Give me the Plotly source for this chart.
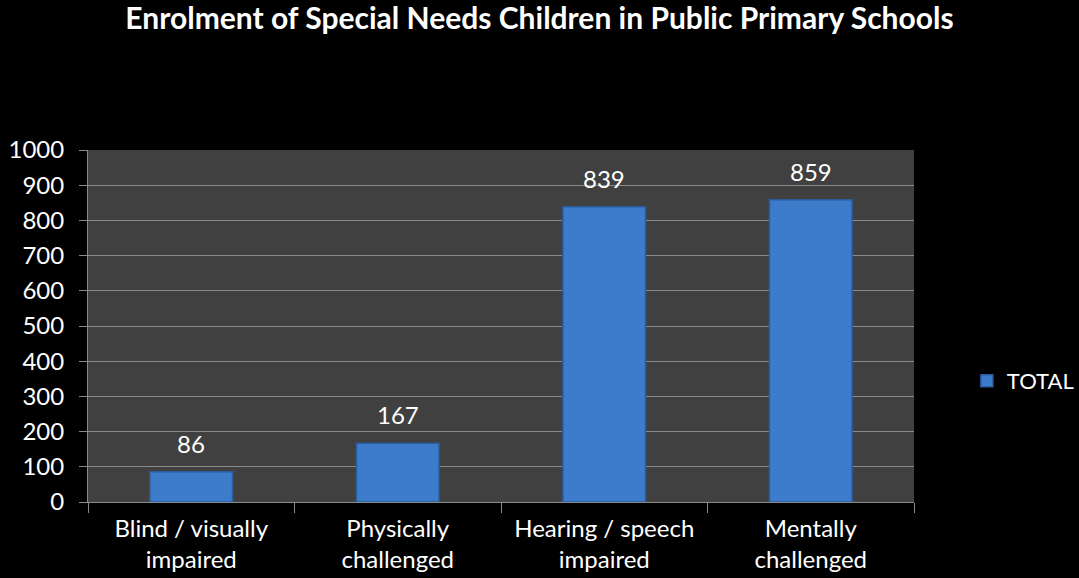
import plotly.graph_objects as go

categories = ["Blind / visually<br>impaired", "Physically<br>challenged",
              "Hearing / speech<br>impaired", "Mentally<br>challenged"]
totals = [86, 167, 839, 859]
series_name = "TOTAL"
y_ticks = list(range(0, 1001, 100))

FONT = "Lato, 'Open Sans', sans-serif"

fig = go.Figure()
fig.add_trace(go.Bar(
    x=categories,
    y=totals,
    name=series_name,
    marker=dict(color="#3d7cca", line=dict(color="#2a5d9e", width=1.5)),
    showlegend=True,
))

# value labels sitting above each bar
for cat, val in zip(categories, totals):
    fig.add_annotation(
        x=cat, y=val, text=str(val), showarrow=False,
        yanchor="bottom", yshift=12,
        font=dict(color="white", size=24, family=FONT),
    )

fig.update_layout(
    width=1079, height=578,
    paper_bgcolor="black",
    plot_bgcolor="#404040",
    margin=dict(l=88, r=165, t=150, b=76, autoexpand=False),
    bargap=0.6,
    font=dict(family=FONT, color="white", size=20),
    title=dict(
        text="<b>Enrolment of Special Needs Children in Public Primary Schools</b>",
        x=0.5, xanchor="center", y=0.968, yanchor="middle",
        font=dict(size=30, color="white", family=FONT),
    ),
    legend=dict(
        x=1.064, xanchor="left", y=0.344, yanchor="middle",
        font=dict(size=22, color="white", family=FONT),
        bgcolor="rgba(0,0,0,0)",
        itemwidth=30,
    ),
)

fig.update_yaxes(
    range=[0, 1000],
    tickvals=y_ticks,
    showgrid=True, gridcolor="#8a8a8a", gridwidth=1,
    showline=True, linecolor="#8a8a8a", linewidth=1,
    ticks="outside", ticklen=8, tickcolor="#8a8a8a",
    ticklabelstandoff=10,
    tickfont=dict(size=24, color="white", family=FONT),
    zeroline=False, automargin=False,
)
fig.update_xaxes(
    showline=True, linecolor="#8a8a8a", linewidth=1,
    ticks="outside", ticklen=10, tickcolor="#8a8a8a",
    tickson="boundaries",
    tickfont=dict(size=24, color="white", family=FONT),
    ticklabelstandoff=5, automargin=False,
)

fig.write_html("out.html")
